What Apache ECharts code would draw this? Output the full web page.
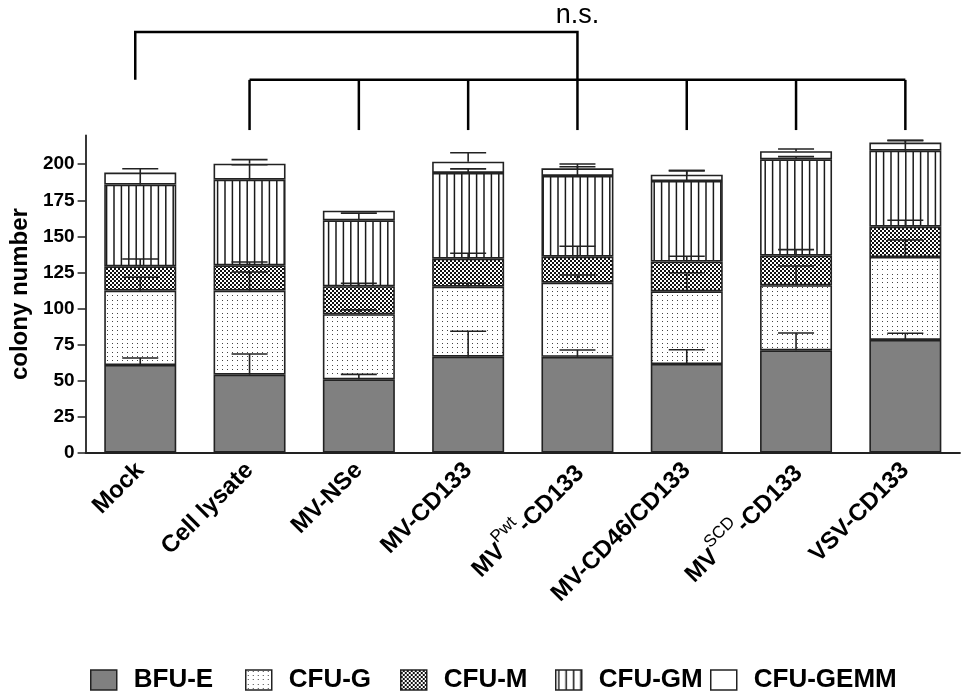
<!DOCTYPE html>
<html>
<head>
<meta charset="utf-8">
<script src="https://cdn.jsdelivr.net/npm/echarts@6/dist/echarts.min.js"></script>
<style>html,body{margin:0;padding:0;background:#fff}#main{width:965px;height:694px}</style>
</head>
<body>
<div id="main"></div>
<script>
// ---- data ----
const categories = ['Mock', 'Cell lysate', 'MV-NSe', 'MV-CD133', 'MV{Pwt}-CD133', 'MV-CD46/CD133', 'MV{SCD}-CD133', 'VSV-CD133'];
const seriesNames = ['BFU-E', 'CFU-G', 'CFU-M', 'CFU-GM', 'CFU-GEMM'];
const bfuE    = [60.8, 54.1, 50.9, 66.6, 66.5, 61.5, 71.0, 78.2];
const cfuG    = [51.6, 58.3, 45.1, 48.5, 51.4, 50.4, 45.1, 57.5];
const cfuM    = [16.8, 17.5, 19.4, 19.4, 18.0, 20.6, 20.5, 21.0];
const cfuGM   = [56.7, 59.4, 45.7, 59.5, 56.0, 55.9, 66.8, 52.7];
const cfuGEMM = [8.3, 11.1, 6.7, 7.8, 5.3, 4.4, 5.6, 5.6];
const errBfuE    = [4.9, 14.3, 3.4, 17.6, 4.7, 9.9, 12.0, 4.6];
const errCfuG    = [9.2, 12.9, 3.0, 2.4, 5.3, 12.9, 13.4, 11.8];
const errCfuM    = [5.1, 2.3, 2.1, 3.8, 7.2, 3.7, 4.2, 4.5];
const errCfuGM   = [11.0, 10.4, 5.0, 2.8, 6.4, 7.2, 1.9, 7.0];
const errCfuGEMM = [0, 2.8, 0, 6.2, 3.0, 2.8, 1.6, 1.6];
const yTicks = [0, 25, 50, 75, 100, 125, 150, 175, 200];
const yMax = 220;
// significance bracket levels in axis units
const bracketTopLevel = 291.7;
const bracketMidLevel = 258.5;
const bracketLegEnd = 223.7;
const bracketLeft = 0;
const bracketJoin = 4;
const bracketGroup = [1, 2, 3, 4, 5, 6, 7];
const sigLabel = 'n.s.';

// ---- patterns ----
function mk(w, h, draw) { const c = document.createElement('canvas'); c.width = w; c.height = h; const x = c.getContext('2d'); draw(x); return c; }
const patDots = mk(5, 13, x => { x.fillStyle = '#fff'; x.fillRect(0, 0, 5, 13); x.fillStyle = '#444'; [1, 5, 9].forEach(y => x.fillRect(2, y, 1, 1)); });
const patCheck = mk(4, 4, x => { x.fillStyle = '#111'; x.fillRect(0, 0, 4, 4); x.fillStyle = '#fff'; x.fillRect(0, 0, 2, 2); x.fillRect(2, 2, 2, 2); });
const patLines = mk(37, 4, x => { x.fillStyle = '#fff'; x.fillRect(0, 0, 37, 4); x.strokeStyle = '#1a1a1a'; x.lineWidth = 1.5; for (let i = 0; i < 5; i++) { const px = 3 + i * 7.4; x.beginPath(); x.moveTo(px, 0); x.lineTo(px, 4); x.stroke(); } });
const fills = ['#808080', { image: patDots, repeat: 'repeat' }, { image: patCheck, repeat: 'repeat' }, { image: patLines, repeat: 'repeat' }, '#ffffff'];

const values = [bfuE, cfuG, cfuM, cfuGM, cfuGEMM];
const errs = [errBfuE, errCfuG, errCfuM, errCfuGM, errCfuGEMM];

// error bar data: [catIndex, segmentTop, segmentTop+err]
const errData = [];
for (let i = 0; i < categories.length; i++) {
  let cum = 0;
  for (let s = 0; s < values.length; s++) {
    cum += values[s][i];
    if (errs[s][i] > 0) errData.push([i, cum, cum + errs[s][i]]);
  }
}

const FONT = '"Liberation Sans", Arial, sans-serif';
const chart = echarts.init(document.getElementById('main'), null, { renderer: 'canvas' });

const barSeries = seriesNames.map((n, s) => ({
  name: n, type: 'bar', stack: 'total', barWidth: 72,
  data: values[s],
  itemStyle: { color: fills[s], borderColor: '#222', borderWidth: 1.6 },
  emphasis: { disabled: true }
}));

// one legend block per series so that items sit on an even pitch
const legends = seriesNames.map((n, k) => ({
  data: [n], left: 90 + k * 155, top: 667, padding: 0, itemWidth: 26, itemHeight: 20, icon: 'rect',
  itemStyle: { borderColor: '#222', borderWidth: 1.5 },
  textStyle: { fontSize: 26, fontWeight: 'bold', color: '#000', fontFamily: FONT, padding: [0, 0, 0, 12] },
  selectedMode: false
}));

const option = {
  animation: false,
  textStyle: { fontFamily: FONT },
  grid: { left: 81, right: 5, top: 135.4, bottom: 241.3, containLabel: false },
  xAxis: {
    type: 'category', data: categories,
    axisLine: { lineStyle: { color: '#222', width: 1.8 } },
    axisTick: { alignWithLabel: true, length: 6, lineStyle: { color: '#222', width: 1.5 } },
    axisLabel: {
      interval: 0, rotate: 45, margin: 14, color: '#000', fontSize: 24, fontWeight: 'bold', fontFamily: FONT,
      formatter: v => {
        const m = v.match(/^(.*?)\{(.*?)\}(.*)$/);
        if (m) return '{b|' + m[1] + '}{sup|' + m[2] + '}{b|' + m[3] + '}';
        return v;
      },
      rich: {
        b: { fontSize: 24, fontWeight: 'bold', color: '#000', fontFamily: FONT, verticalAlign: 'bottom', lineHeight: 32 },
        sup: { fontSize: 17, fontWeight: 'normal', color: '#000', fontFamily: FONT, verticalAlign: 'top', lineHeight: 18 }
      }
    }
  },
  yAxis: {
    type: 'value', min: 0, max: yMax,
    name: 'colony number', nameLocation: 'middle', nameGap: 45,
    nameTextStyle: { fontSize: 24, fontWeight: 'bold', color: '#000', fontFamily: FONT },
    axisLine: { show: true, lineStyle: { color: '#222', width: 1.8 } },
    axisTick: { show: true, length: 8, customValues: yTicks, lineStyle: { color: '#222', width: 1.5 } },
    axisLabel: { customValues: yTicks, margin: 11, fontSize: 19, fontWeight: 'bold', color: '#000', fontFamily: FONT },
    splitLine: { show: false }
  },
  legend: legends,
  series: barSeries.concat([{
    type: 'custom', name: 'err', z: 10, silent: true,
    data: errData,
    encode: { x: 0, y: [1, 2] },
    renderItem: (params, api) => {
      const i = api.value(0);
      const p0 = api.coord([i, api.value(1)]);
      const p1 = api.coord([i, api.value(2)]);
      const hw = 18;
      const st = { stroke: '#222', lineWidth: 1.6, fill: null };
      return { type: 'group', children: [
        { type: 'line', shape: { x1: p0[0], y1: p0[1], x2: p1[0], y2: p1[1] }, style: st },
        { type: 'line', shape: { x1: p1[0] - hw, y1: p1[1], x2: p1[0] + hw, y2: p1[1] }, style: st }
      ] };
    }
  }])
};
chart.setOption(option);

// significance bracket annotation, positioned through the axes
const px = i => chart.convertToPixel({ xAxisIndex: 0 }, i);
const py = v => chart.convertToPixel({ yAxisIndex: 0 }, v);
const lw = { stroke: '#000', lineWidth: 2.5 };
const g = [];
const yTop = py(bracketTopLevel), yMid = py(bracketMidLevel), yEnd = py(bracketLegEnd);
const xL = px(bracketLeft) - 5, xJ = px(bracketJoin);
g.push({ type: 'polyline', shape: { points: [[xL, yMid], [xL, yTop], [xJ, yTop], [xJ, yMid]] }, style: Object.assign({ fill: null }, lw) });
g.push({ type: 'line', shape: { x1: px(bracketGroup[0]), y1: yMid, x2: px(bracketGroup[bracketGroup.length - 1]), y2: yMid }, style: lw });
bracketGroup.forEach(i => g.push({ type: 'line', shape: { x1: px(i), y1: yMid, x2: px(i), y2: yEnd }, style: lw }));
g.push({ type: 'text', x: xJ, y: yTop - 16, style: { text: sigLabel, fontSize: 27, fontFamily: FONT, fill: '#000', align: 'center', verticalAlign: 'middle' } });
chart.setOption({ graphic: g });
</script>
</body>
</html>
